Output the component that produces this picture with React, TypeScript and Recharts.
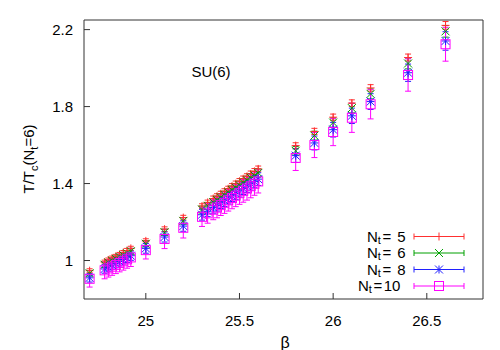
import React from "react"
import { ScatterChart, Scatter, XAxis, YAxis, ErrorBar } from "recharts"

// beta values of the simulation points
const BETA = [
  24.7, 24.78, 24.8, 24.82, 24.84, 24.86, 24.88, 24.9, 24.92,
  25.0, 25.1, 25.2,
  25.3, 25.33, 25.36, 25.38, 25.4, 25.42, 25.44, 25.46, 25.48, 25.5, 25.52, 25.54, 25.56, 25.58, 25.6,
  25.8, 25.9, 26.0, 26.1, 26.2, 26.4, 26.6,
]

// T/Tc for each Nt
const T_NT5 = [
  0.947, 0.992, 1.003, 1.013, 1.022, 1.032, 1.042, 1.052, 1.063,
  1.102, 1.163, 1.223,
  1.283, 1.302, 1.322, 1.334, 1.347, 1.36, 1.373, 1.386, 1.399, 1.412, 1.425, 1.437, 1.45, 1.463, 1.476,
  1.597, 1.671, 1.745, 1.818, 1.897, 2.055, 2.222,
]
const T_NT6 = [
  0.934, 0.978, 0.989, 0.999, 1.008, 1.018, 1.027, 1.037, 1.048,
  1.087, 1.147, 1.206,
  1.265, 1.284, 1.303, 1.315, 1.328, 1.341, 1.354, 1.367, 1.379, 1.392, 1.405, 1.417, 1.43, 1.442, 1.455,
  1.57, 1.649, 1.717, 1.792, 1.866, 2.024, 2.191,
]
const T_NT8 = [
  0.91, 0.956, 0.967, 0.977, 0.985, 0.995, 1.005, 1.014, 1.025,
  1.063, 1.122, 1.179,
  1.238, 1.256, 1.275, 1.286, 1.299, 1.311, 1.324, 1.336, 1.349, 1.361, 1.374, 1.386, 1.398, 1.41, 1.423,
  1.545, 1.611, 1.68, 1.752, 1.826, 1.976, 2.141,
]
const T_NT10 = [
  0.905, 0.949, 0.959, 0.968, 0.977, 0.987, 0.996, 1.006, 1.016,
  1.054, 1.112, 1.17,
  1.227, 1.245, 1.264, 1.275, 1.288, 1.3, 1.313, 1.325, 1.337, 1.35, 1.362, 1.374, 1.386, 1.399, 1.411,
  1.533, 1.6, 1.668, 1.742, 1.812, 1.964, 2.124,
]

// error bars
const ERR_NT5 = [
  0.01, 0.01, 0.01, 0.01, 0.01, 0.01, 0.01, 0.011, 0.011,
  0.011, 0.012, 0.012,
  0.012, 0.012, 0.013, 0.013, 0.013, 0.013, 0.013, 0.014, 0.014, 0.014, 0.014, 0.014, 0.015, 0.015, 0.015,
  0.015, 0.016, 0.016, 0.017, 0.017, 0.018, 0.02,
]
const ERR_NT6 = [
  0.014, 0.014, 0.014, 0.014, 0.015, 0.015, 0.015, 0.015, 0.015,
  0.016, 0.016, 0.017,
  0.018, 0.018, 0.018, 0.019, 0.019, 0.019, 0.019, 0.02, 0.02, 0.02, 0.02, 0.021, 0.021, 0.021, 0.021,
  0.022, 0.023, 0.024, 0.025, 0.026, 0.028, 0.03,
]
const ERR_NT8 = [
  0.022, 0.022, 0.022, 0.023, 0.023, 0.023, 0.023, 0.024, 0.024,
  0.025, 0.026, 0.027,
  0.028, 0.028, 0.029, 0.029, 0.029, 0.03, 0.03, 0.03, 0.031, 0.031, 0.031, 0.032, 0.032, 0.032, 0.033,
  0.035, 0.036, 0.038, 0.04, 0.041, 0.045, 0.048,
]
const ERR_NT10 = [
  0.043, 0.044, 0.045, 0.045, 0.045, 0.046, 0.046, 0.046, 0.047,
  0.046, 0.05, 0.053,
  0.05, 0.051, 0.052, 0.053, 0.054, 0.055, 0.056, 0.056, 0.057, 0.058, 0.059, 0.06, 0.06, 0.06, 0.06,
  0.065, 0.065, 0.071, 0.076, 0.076, 0.084, 0.088,
]

const X_TICKS = [25, 25.5, 26, 26.5]
const Y_TICKS = [1, 1.4, 1.8, 2.2]
const X_DOMAIN: [number, number] = [24.67, 26.8]
const Y_DOMAIN: [number, number] = [0.8, 2.25]

const FONT = "'Liberation Sans', Arial, sans-serif"

const toPoints = (t: number[], err: number[]) =>
  BETA.map((b, i) => ({ beta: b, t: t[i], err: err[i] }))

const drawMark = (kind: string, cx: number, cy: number, color: string) => {
  const s = 4
  if (kind === "plus") {
    return (
      <g stroke={color} strokeWidth={1}>
        <line x1={cx - s} y1={cy} x2={cx + s} y2={cy} />
        <line x1={cx} y1={cy - s} x2={cx} y2={cy + s} />
      </g>
    )
  }
  if (kind === "cross") {
    return (
      <g stroke={color} strokeWidth={1}>
        <line x1={cx - s} y1={cy - s} x2={cx + s} y2={cy + s} />
        <line x1={cx - s} y1={cy + s} x2={cx + s} y2={cy - s} />
      </g>
    )
  }
  if (kind === "star") {
    return (
      <g stroke={color} strokeWidth={1}>
        <line x1={cx - s} y1={cy} x2={cx + s} y2={cy} />
        <line x1={cx} y1={cy - s} x2={cx} y2={cy + s} />
        <line x1={cx - s} y1={cy - s} x2={cx + s} y2={cy + s} />
        <line x1={cx - s} y1={cy + s} x2={cx + s} y2={cy - s} />
      </g>
    )
  }
  return <rect x={cx - 4.5} y={cy - 4.5} width={9} height={9} fill="none" stroke={color} strokeWidth={1} />
}

const SERIES = [
  { name: "5", color: "#ff3030", mark: "plus", data: toPoints(T_NT5, ERR_NT5) },
  { name: "6", color: "#00a000", mark: "cross", data: toPoints(T_NT6, ERR_NT6) },
  { name: "8", color: "#2020ff", mark: "star", data: toPoints(T_NT8, ERR_NT8) },
  { name: "10", color: "#ff00ff", mark: "square", data: toPoints(T_NT10, ERR_NT10) },
]

// legend rows (gnuplot style: text, then errorbar sample)
const LEGEND_Y = [236.5, 253, 269.5, 286]
const LEGEND_TEXT_X = [367, 367, 367, 358]

export default function App() {
  return (
    <div style={{ position: "absolute", left: 0, top: 0, width: 500, height: 350, background: "#fff" }}>
      <ScatterChart width={500} height={350} margin={{ top: 19, right: 16, bottom: 0, left: 0 }}>
        <XAxis
          xAxisId="b" type="number" dataKey="beta" domain={X_DOMAIN} ticks={X_TICKS} allowDataOverflow
          height={51} tickSize={-6} tickMargin={22} stroke="#333"
          tick={{ fill: "#000", fontSize: 15, fontFamily: FONT }}
        />
        <XAxis
          xAxisId="t" orientation="top" type="number" dataKey="beta" domain={X_DOMAIN} ticks={X_TICKS} allowDataOverflow
          height={1} tickSize={-6} tick={false} stroke="#333"
        />
        <YAxis
          yAxisId="l" type="number" dataKey="t" domain={Y_DOMAIN} ticks={Y_TICKS} allowDataOverflow
          width={84} tickSize={-6} tickMargin={17} stroke="#333"
          tick={{ fill: "#000", fontSize: 15, fontFamily: FONT }}
        />
        <YAxis
          yAxisId="r" orientation="right" type="number" dataKey="t" domain={Y_DOMAIN} ticks={Y_TICKS} allowDataOverflow
          width={1} tickSize={-6} tick={false} stroke="#333"
        />
        {SERIES.map((s) => (
          <Scatter
            key={s.name}
            xAxisId="b"
            yAxisId="l"
            data={s.data}
            isAnimationActive={false}
            shape={(p: any) => drawMark(s.mark, p.cx, p.cy, s.color)}
          >
            <ErrorBar dataKey="err" direction="y" width={3} stroke={s.color} strokeWidth={1} isAnimationActive={false} />
          </Scatter>
        ))}
      </ScatterChart>
      <svg width={500} height={350} style={{ position: "absolute", left: 0, top: 0, pointerEvents: "none" }} fontFamily={FONT}>
        <text x={211} y={77} textAnchor="middle" fontSize={15}>SU(6)</text>
        <text x={285} y={348} textAnchor="middle" fontSize={16}>β</text>
        <text transform="translate(34,159) rotate(-90)" textAnchor="middle" fontSize={15}>
          T/T<tspan dy={4} fontSize={11}>c</tspan>
          <tspan dy={-4}>(N</tspan>
          <tspan dy={4} fontSize={11}>t</tspan>
          <tspan dy={-4}>=6)</tspan>
        </text>
        {SERIES.map((s, i) => {
          const y = LEGEND_Y[i]
          return (
            <g key={s.name}>
              <text x={LEGEND_TEXT_X[i]} y={y + 5} fontSize={15}>
                N<tspan dy={2} fontSize={11}>t</tspan>
                <tspan dy={-2} dx={1.5}>=</tspan>
                <tspan dx={s.name.length === 1 ? 6 : 1.5}>{s.name}</tspan>
              </text>
              <g stroke={s.color} strokeWidth={1}>
                <line x1={414} y1={y} x2={464} y2={y} />
                <line x1={414} y1={y - 3} x2={414} y2={y + 3} />
                <line x1={464} y1={y - 3} x2={464} y2={y + 3} />
              </g>
              {drawMark(s.mark, 439, y, s.color)}
            </g>
          )
        })}
      </svg>
    </div>
  )
}
